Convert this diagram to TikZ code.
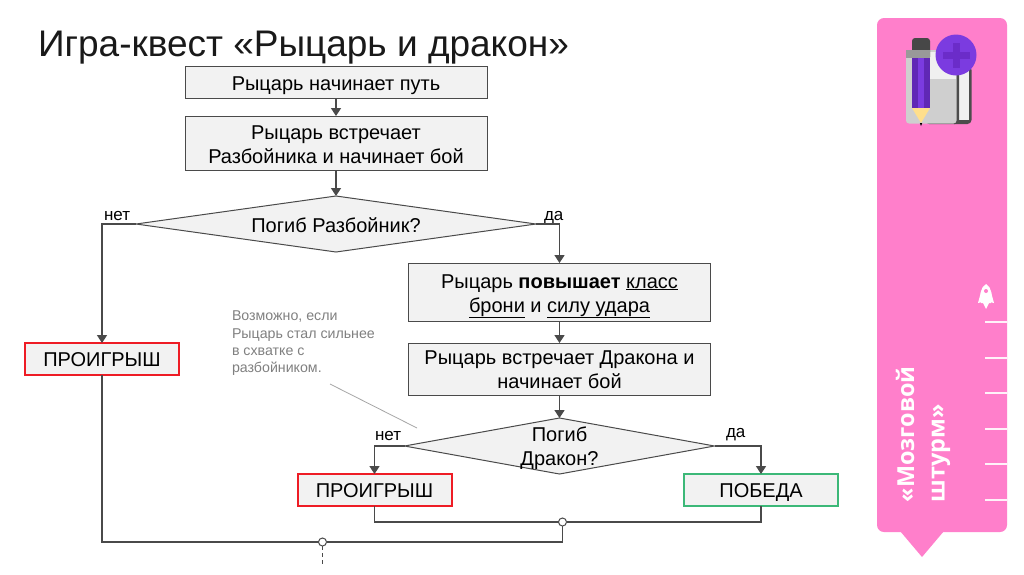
\documentclass[tikz,border=0pt]{standalone}
\usepackage{fontspec}
\setmainfont{Liberation Sans}
\newfontfamily\panelfont{Open Sans}
\usetikzlibrary{shapes.geometric,arrows.meta}
\definecolor{boxfill}{HTML}{F2F2F2}
\definecolor{linec}{HTML}{4A4A4A}
\definecolor{panelpink}{HTML}{FF7FCB}
\definecolor{losered}{HTML}{EE1C25}
\definecolor{wingreen}{HTML}{3CB878}
\definecolor{purp}{HTML}{7B3BE0}
\definecolor{purpd}{HTML}{6B2CC9}
\tikzset{
  x=1pt,y=-1pt,
  every node/.style={inner sep=0pt,outer sep=0pt,font=\fontsize{20}{24}\selectfont,text=black},
  stepbox/.style={draw=linec,line width=1pt,fill=boxfill,align=center,minimum width=302pt},
  losebox/.style={draw=losered,line width=2pt,fill=boxfill,minimum width=154pt,minimum height=32pt},
  winbox/.style={draw=wingreen,line width=2pt,fill=boxfill,minimum width=154pt,minimum height=32pt},
  choice/.style={diamond,draw=linec,line width=1pt,fill=boxfill,aspect=7},
  link/.style={draw=linec,line width=1.1pt},
  flow/.style={draw=linec,line width=1.6pt,-{Triangle[length=8pt,width=10pt]}},
  small/.style={font=\fontsize{17}{20}\selectfont},
  junction/.style={circle,draw=linec,line width=1pt,fill=white,minimum size=8pt},
  tick/.style={draw=white,line width=1.8pt,opacity=.9},
}
\begin{document}
\begin{tikzpicture}
\useasboundingbox (0,0) rectangle (1024,574);
\fill[white] (0,0) rectangle (1024,574);
% title
\node[anchor=base west,font=\fontsize{37}{40}\selectfont,text=black!90] (title) at (38,56) {Игра-квест «Рыцарь и дракон»};
% boxes
\node[stepbox,minimum height=32pt] (b1) at (336,82) {};
\node[anchor=base] (b1t) at (336,90) {Рыцарь начинает путь};
\node[stepbox,minimum height=54pt] (b2) at (336,143) {};
\node[align=center,anchor=base] (b2t) at (336,163) {Рыцарь встречает\\Разбойника и начинает бой};
\node[choice,minimum width=400pt,minimum height=56pt] (d1) at (336,224) {};
\node[anchor=base] (d1t) at (336,232) {Погиб Разбойник?};
\node[stepbox,minimum height=58pt] (b3) at (559.5,292) {};
\node[align=center,anchor=base] (b3t) at (559.5,312) {Рыцарь \textbf{повышает} \underline{класс}\\\underline{брони} и \underline{силу удара}};
\node[stepbox,minimum height=52pt] (b4) at (559.5,369) {};
\node[align=center,anchor=base] (b4t) at (559.5,388) {Рыцарь встречает Дракона и\\начинает бой};
\node[choice,minimum width=310pt,minimum height=56pt] (d2) at (559.5,446) {};
\node[align=center,anchor=base] (d2t) at (559.5,465) {Погиб\\Дракон?};
\node[losebox] (l1) at (102,359) {};
\node[anchor=base] (l1t) at (102,366) {ПРОИГРЫШ};
\node[losebox] (l2) at (374.5,490) {};
\node[anchor=base] (l2t) at (374.5,497) {ПРОИГРЫШ};
\node[winbox] (w) at (761,490) {};
\node[anchor=base] (wt) at (761,497) {ПОБЕДА};
% labels
\node[small,anchor=base west] (n1) at (104,220) {нет};
\node[small,anchor=base west] (y1) at (544,220) {да};
\node[small,anchor=base west] (n2) at (375,440) {нет};
\node[small,anchor=base west] (y2) at (726,437) {да};
% note
\node[anchor=north west,align=left,font=\fontsize{14.2}{17.3}\selectfont,text=black!50] (note) at (232,311) {Возможно, если\\Рыцарь стал сильнее\\в схватке с\\разбойником.};
\coordinate (noteA) at (330,384);
\coordinate (noteB) at (417,428);
\draw[black!35,line width=.8pt] (noteA) -- (noteB);
% junctions
\node[junction] (j1) at (562.5,522) {};
\node[junction] (j2) at (322.5,542) {};
\coordinate (j3) at (322.5,566);
% connectors
\draw[flow] (b1) -- (b2);
\draw[flow] (b2) -- (d1.north);
\draw[flow] (d1.west) -| (l1.north);
\draw[flow] (d1.east) -| (b3.north);
\draw[flow] (b3) -- (b4);
\draw[flow] (b4.south) -- (d2.north);
\draw[flow] (d2.west) -| (l2.north);
\draw[flow] (d2.east) -| (w.north);
\draw[link] (l2.south) |- (j1.west);
\draw[link] (w.south) |- (j1.east);
\draw[link] (j1.south) |- (j2.east);
\draw[link] (l1.south) |- (j2.west);
\draw[link,dash pattern=on 4pt off 3pt] (j2.south) -- (j3);
% side panel
\fill[panelpink,rounded corners=7pt] (877,18) -- (1007,18) -- (1007,532) -- (877,532) -- cycle;
\fill[panelpink] (900,531) -- (944,531) -- (922,557) -- cycle;
\foreach \ty in {322,358,393,429,464,500}
  \draw[tick] (985,\ty) -- (1007,\ty);
% rocket
\fill[white] (986,284) .. controls (980,288) and (980,294) .. (981,303) -- (991,303) .. controls (992,294) and (992,288) .. (986,284) -- cycle;
\fill[white] (981,292) -- (978,303) -- (982,302) -- cycle;
\fill[white] (991,292) -- (994,303) -- (990,302) -- cycle;
\fill[white] (983,303) -- (989,303) -- (986,309) -- cycle;
\fill[panelpink] (986,291) circle (2pt);
% icon
\fill[black!70,rounded corners=4pt] (950,66) -- (971.5,66) -- (971.5,124) -- (950,124) -- cycle;
\fill[black!6] (958,62) rectangle (969,120);
\fill[black!70,rounded corners=4pt] (925,60) -- (959,60) -- (959,124) -- (925,124) -- cycle;
\fill[black!19,rounded corners=3pt] (906,50) rectangle (956.5,123.5);
\fill[black!6] (930,52) rectangle (956,79);
\fill[black!72,rounded corners=3pt] (912,38) rectangle (930,60);
\fill[black!40] (906,50) rectangle (930,58);
\fill[purp] (912,58) rectangle (930,108);
\fill[purpd!90!black] (912,58) rectangle (918,108);
\fill[purpd!90!black] (924,58) rectangle (930,108);
\fill[orange!55!yellow!45!white] (912,108) -- (930,108) -- (921,123) -- cycle;
\fill[black] (919.8,123) -- (922.2,123) -- (921,126) -- cycle;
\fill[purp] (956,55) circle (20.5pt);
\fill[purpd] (953,43) rectangle (960,68);
\fill[purpd] (943,52) rectangle (970,59);
% panel caption
\node[rotate=90,anchor=west,font=\panelfont\bfseries\fontsize{23.4}{26}\selectfont,text=white] (cap1) at (905,502) {«Мозговой};
\node[rotate=90,anchor=west,font=\panelfont\bfseries\fontsize{23.4}{26}\selectfont,text=white] (cap2) at (941,502) {штурм»};
\end{tikzpicture}
\end{document}
